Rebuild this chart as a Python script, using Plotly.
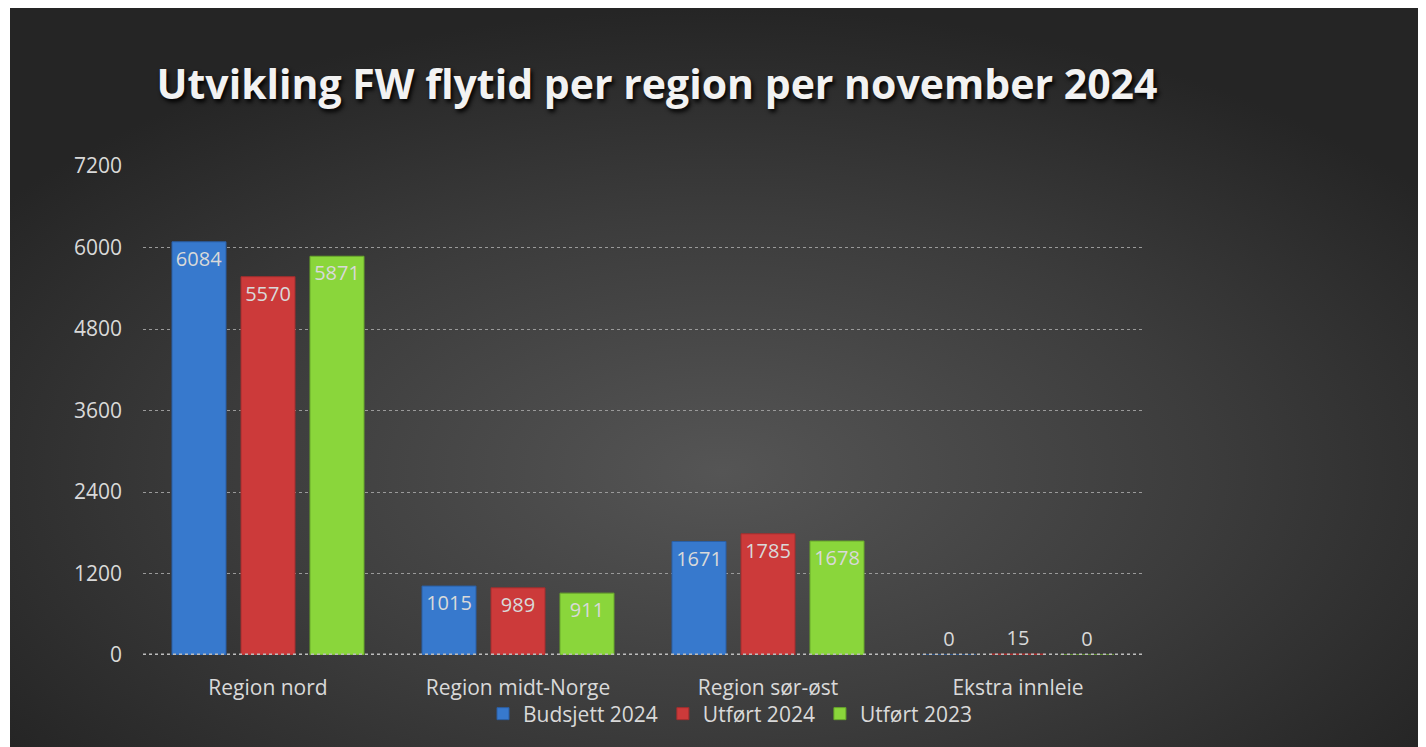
import base64
import plotly.graph_objects as go

categories = ["Region nord", "Region midt-Norge", "Region sør-øst", "Ekstra innleie"]
budsjett_2024 = [6084, 1015, 1671, 0]
utfort_2024 = [5570, 989, 1785, 15]
utfort_2023 = [5871, 911, 1678, 0]
series_names = ["Budsjett 2024", "Utført 2024", "Utført 2023"]
y_ticks = [0, 1200, 2400, 3600, 4800, 6000, 7200]

colors = ["#3779cd", "#cc3a3a", "#8ad63b"]
line_colors = ["#2a5fa5", "#a32e2e", "#68a82a"]
text_color = "#d9d9d9"
FONT = "Open Sans"

W, H = 1426, 747
# figure coordinates (page body adds an 8px offset)
L, R, T, B = 135, 1426 - 1135, 158, 747 - 647
pw, ph = W - L - R, H - T - B
plot_bottom = H - B

svg = f'''<svg xmlns="http://www.w3.org/2000/svg" width="1424" height="747" viewBox="0 0 1424 747">
<defs><radialGradient id="g" cx="50%" cy="62%" r="62%" fx="50%" fy="62%">
<stop offset="0%" stop-color="#555555"/><stop offset="55%" stop-color="#3c3c3c"/><stop offset="100%" stop-color="#252525"/>
</radialGradient></defs><rect width="1424" height="747" fill="url(#g)"/></svg>'''
bg_uri = "data:image/svg+xml;base64," + base64.b64encode(svg.encode()).decode()

fig = go.Figure()
for name, vals, c, lc in zip(series_names, [budsjett_2024, utfort_2024, utfort_2023], colors, line_colors):
    fig.add_trace(go.Bar(
        name=name, x=categories, y=vals,
        marker=dict(color=c, line=dict(color=lc, width=1)),
        text=[str(v) for v in vals],
        textposition=["inside" if v > 300 else "outside" for v in vals],
        insidetextanchor="end",
        textangle=0,
        textfont=dict(color=text_color, size=20, family=FONT),
        outsidetextfont=dict(color=text_color, size=20, family=FONT),
        cliponaxis=False,
        constraintext="none",
    ))

fig.add_shape(type="line", xref="paper", yref="y", x0=0, x1=1, y0=0, y1=0,
              line=dict(color="#bdbdbd", width=3, dash="dot"), layer="above")

fig.update_layout(
    width=W, height=H,
    margin=dict(l=L, r=R, t=T, b=B, autoexpand=False),
    paper_bgcolor="white",
    plot_bgcolor="rgba(0,0,0,0)",
    barmode="group", bargap=0.172, bargroupgap=0.217,
    font=dict(family=FONT, color=text_color, size=21),
    title=dict(
        text="<b>Utvikling FW flytid per region per november 2024</b>",
        x=649 / W, xanchor="center", xref="container",
        y=1 - 77 / H, yanchor="middle", yref="container",
        font=dict(family=FONT, size=41, color="#f2f2f2", shadow="2px 3px 4px #000000"),
    ),
    legend=dict(
        orientation="h", x=(722 - L) / pw, xanchor="center",
        y=(plot_bottom - 706) / ph, yanchor="middle",
        font=dict(size=21, color=text_color, family=FONT),
        bgcolor="rgba(0,0,0,0)", itemwidth=30,
        traceorder="normal",
    ),
    images=[dict(
        source=bg_uri, xref="paper", yref="paper",
        x=(2 - L) / pw, y=(plot_bottom - 0) / ph,
        sizex=(W - 2) / pw, sizey=H / ph,
        sizing="stretch", xanchor="left", yanchor="top", layer="below",
    )],
    xaxis=dict(showgrid=False, showline=False, ticks="", zeroline=False,
               tickfont=dict(size=21, color=text_color), ticklabelstandoff=18),
    yaxis=dict(range=[0, 7200], tickvals=y_ticks, ticktext=[str(v) for v in y_ticks],
               showgrid=True, gridcolor="#9a9a9a", griddash="dot", gridwidth=1,
               zeroline=False, showline=False, ticks="",
               tickfont=dict(size=21, color=text_color), ticklabelstandoff=20),
)

fig.write_html("out.html")
